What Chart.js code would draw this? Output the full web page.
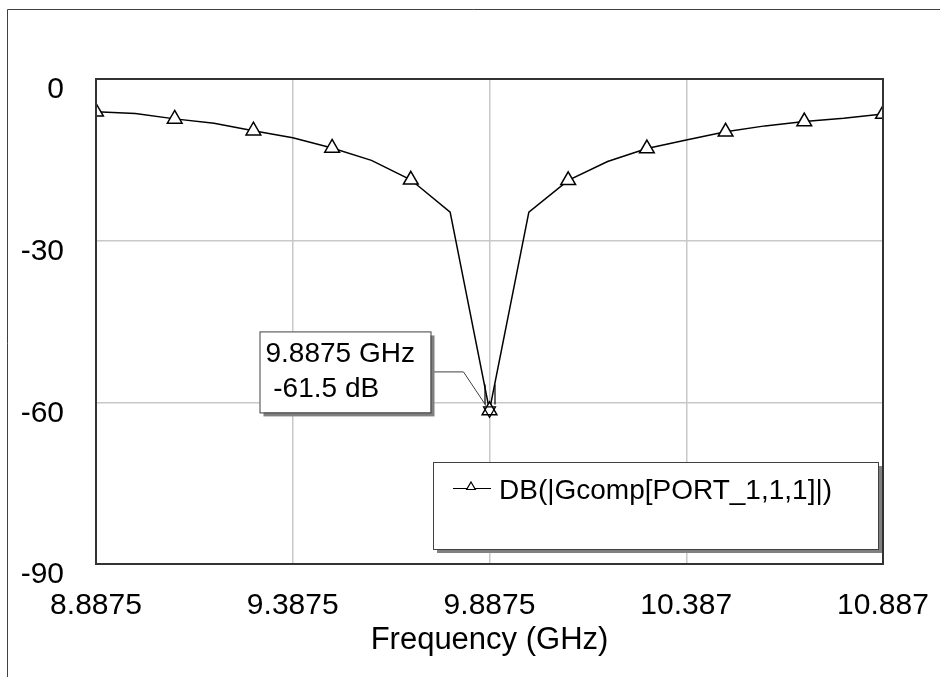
<!DOCTYPE html>
<html>
<head>
<meta charset="utf-8">
<title>DB(|Gcomp[PORT_1,1,1]|)</title>
<script src="https://cdn.jsdelivr.net/npm/chart.js@4.4.1/dist/chart.umd.min.js"></script>
<style>
  html, body { margin: 0; padding: 0; background: #ffffff; }
  canvas { display: block; }
</style>
</head>
<body>
<canvas id="s11Chart" width="940" height="677"></canvas>
<script>
// Frequency sweep (GHz) and return loss (dB)
const freqGHz = [8.8875, 8.9875, 9.0875, 9.1875, 9.2875, 9.3875, 9.4875, 9.5875, 9.6875, 9.7875,
  9.8875, 9.9875, 10.0875, 10.1875, 10.2875, 10.3875, 10.4875, 10.5875, 10.6875, 10.7875, 10.8875];
const gcompDb = [-6.1, -6.4, -7.4, -8.2, -9.6, -10.9, -12.8, -15.1, -18.7, -24.7,
  -61.5, -24.7, -18.8, -15.3, -12.9, -11.3, -9.8, -8.7, -7.9, -7.3, -6.5];

// Axis ticks
const xTickValues = [8.8875, 9.3875, 9.8875, 10.3875, 10.8875];
const xTickLabels = ['8.8875', '9.3875', '9.8875', '10.387', '10.887'];
const yTickValues = [0, -30, -60, -90];

const seriesName = 'DB(|Gcomp[PORT_1,1,1]|)';
const xTitle = 'Frequency (GHz)';
const FONT = '"Liberation Sans", Arial, sans-serif';

/**
 * Draw a triangle marker, pointing up or down
 */
function drawTriangle(ctx, x, y, r, down) {
  const s = down ? -1 : 1;
  ctx.beginPath();
  ctx.moveTo(x, y - s * r);
  ctx.lineTo(x + Math.sin(2 * Math.PI / 3) * r, y + s * r / 2);
  ctx.lineTo(x - Math.sin(2 * Math.PI / 3) * r, y + s * r / 2);
  ctx.closePath();
  ctx.fill();
  ctx.stroke();
}

/**
 * Draw a box with a grey drop shadow
 */
function drawShadowBox(ctx, x, y, w, h) {
  ctx.fillStyle = '#808080';
  ctx.fillRect(x + 4, y + 4, w, h);
  ctx.fillStyle = '#ffffff';
  ctx.fillRect(x, y, w, h);
  ctx.strokeStyle = '#404040';
  ctx.lineWidth = 1;
  ctx.strokeRect(x + 0.5, y + 0.5, w, h);
}

// Frame, plot border, marker readout and legend box
const overlayPlugin = {
  id: 'overlay',
  afterDraw(chart) {
    const ctx = chart.ctx;
    const area = chart.chartArea;
    const xs = chart.scales.x;
    const ys = chart.scales.y;
    ctx.save();

    // outer frame (only top and left edges are visible)
    ctx.strokeStyle = '#404040';
    ctx.lineWidth = 1;
    ctx.beginPath();
    ctx.moveTo(7.5, 677);
    ctx.lineTo(7.5, 9.5);
    ctx.lineTo(940, 9.5);
    ctx.stroke();

    // plot border
    ctx.strokeStyle = '#333333';
    ctx.lineWidth = 2;
    ctx.strokeRect(area.left, area.top, area.right - area.left, area.bottom - area.top);

    // marker on the minimum
    let minIdx = 0;
    gcompDb.forEach((v, i) => { if (v < gcompDb[minIdx]) minIdx = i; });
    const mx = xs.getPixelForValue(freqGHz[minIdx]);
    const my = ys.getPixelForValue(gcompDb[minIdx]);

    ctx.strokeStyle = '#000000';
    ctx.fillStyle = 'rgba(255,255,255,0)';
    ctx.lineWidth = 1.2;
    drawTriangle(ctx, mx, my, 7, true);
    ctx.beginPath();
    ctx.moveTo(mx - 4.5, my - 26);
    ctx.lineTo(mx - 4.5, my - 6);
    ctx.moveTo(mx + 5.5, my - 26);
    ctx.lineTo(mx + 5.5, my - 6);
    ctx.stroke();

    // readout box with leader line
    const bx = mx - 230, by = my - 79, bw = 171, bh = 81;
    ctx.strokeStyle = '#404040';
    ctx.lineWidth = 1;
    ctx.beginPath();
    ctx.moveTo(bx + bw, by + 40.5);
    ctx.lineTo(mx - 26, by + 40.5);
    ctx.lineTo(mx - 3, my - 4);
    ctx.stroke();
    drawShadowBox(ctx, bx, by, bw, bh);
    ctx.fillStyle = '#000000';
    ctx.font = '28px ' + FONT;
    ctx.textAlign = 'left';
    ctx.textBaseline = 'alphabetic';
    ctx.fillText(freqGHz[minIdx] + ' GHz', bx + 6, by + 31);
    ctx.fillText(' ' + gcompDb[minIdx].toFixed(1) + ' dB', bx + 6, by + 66);

    // legend box
    const lx = 433, ly = 462, lw = 445, lh = 87;
    drawShadowBox(ctx, lx, ly, lw, lh);
    ctx.strokeStyle = '#000000';
    ctx.lineWidth = 1.2;
    ctx.beginPath();
    ctx.moveTo(lx + 20, ly + 26.5);
    ctx.lineTo(lx + 58, ly + 26.5);
    ctx.stroke();
    ctx.fillStyle = '#ffffff';
    drawTriangle(ctx, lx + 38, ly + 25, 5, false);
    ctx.fillStyle = '#000000';
    ctx.font = '28px ' + FONT;
    ctx.fillText(seriesName, lx + 66, ly + 37);

    ctx.restore();
  }
};

const canvas = document.getElementById('s11Chart');
new Chart(canvas, {
  type: 'line',
  data: {
    labels: freqGHz,
    datasets: [{
      label: seriesName,
      data: freqGHz.map((f, i) => ({ x: f, y: gcompDb[i] })),
      borderColor: '#000000',
      borderWidth: 1.5,
      pointStyle: 'triangle',
      pointRadius: ctx => (ctx.dataIndex % 2 === 0 ? 8.5 : 0),
      pointBackgroundColor: '#ffffff',
      pointBorderColor: '#000000',
      pointBorderWidth: 1.5,
      tension: 0
    }]
  },
  options: {
    responsive: false,
    animation: false,
    events: [],
    layout: {
      padding: { left: 0, top: 79, right: 57, bottom: 0 }
    },
    plugins: {
      legend: { display: false },
      tooltip: { enabled: false }
    },
    scales: {
      x: {
        type: 'linear',
        min: xTickValues[0],
        max: xTickValues[xTickValues.length - 1],
        afterBuildTicks: scale => { scale.ticks = xTickValues.map(v => ({ value: v })); },
        afterFit: scale => {
          scale.height = 113;
          scale.paddingLeft = 0;
          scale.paddingRight = 0;
        },
        grid: { color: '#c8c8c8', lineWidth: 1.5, drawTicks: false },
        border: { display: false },
        ticks: {
          padding: 24,
          color: '#000000',
          maxRotation: 0,
          autoSkip: false,
          font: { family: FONT, size: 30 },
          callback: (value, index) => xTickLabels[index]
        },
        title: {
          display: true,
          text: xTitle,
          color: '#000000',
          font: { family: FONT, size: 31 },
          padding: { top: 0, bottom: 18 }
        }
      },
      y: {
        min: yTickValues[yTickValues.length - 1],
        max: yTickValues[0],
        afterBuildTicks: scale => { scale.ticks = yTickValues.map(v => ({ value: v })); },
        afterFit: scale => {
          scale.width = 96;
          scale.paddingTop = 0;
          scale.paddingBottom = 0;
        },
        grid: { color: '#c8c8c8', lineWidth: 1.5, drawTicks: false },
        border: { display: false },
        ticks: {
          padding: 32,
          labelOffset: 11,
          color: '#000000',
          font: { family: FONT, size: 30 }
        }
      }
    }
  },
  plugins: [overlayPlugin]
});
</script>
</body>
</html>
